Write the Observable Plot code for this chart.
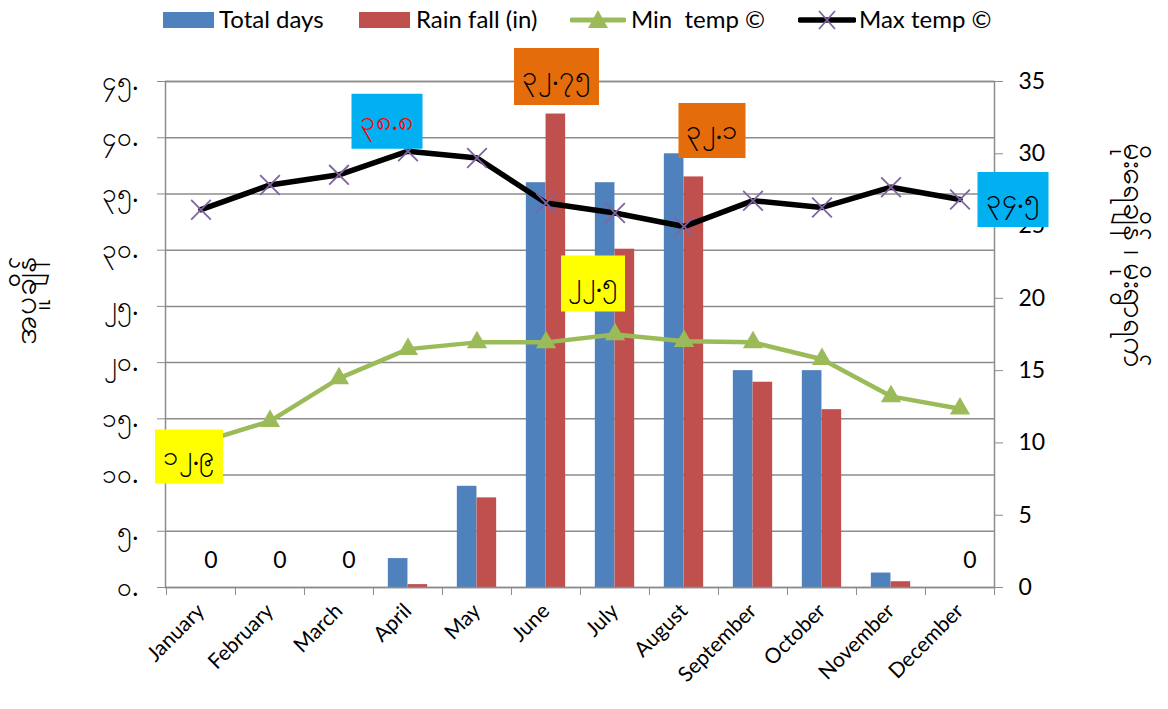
<!DOCTYPE html>
<html><head><meta charset="utf-8">
<script src="https://cdn.jsdelivr.net/npm/d3@7"></script>
<script src="https://cdn.jsdelivr.net/npm/@observablehq/plot@0.6"></script>
<style>
body{margin:0;background:#fff;font-family:Lato,"Open Sans",sans-serif;}
#legend{height:40px;position:relative;width:1168px;}
.sw{position:absolute;}
.lt{position:absolute;top:4px;font-size:24px;line-height:30px;white-space:pre;color:#000;}
</style></head><body>
<div id="legend"></div>
<div id="chart"></div>
<script>
const months = ["January","February","March","April","May","June","July","August","September","October","November","December"];
const totalDays = [0,0,0,2,7,28,28,30,15,15,1,0];
const rainFall = [0,0,0,0.2,6.2,32.75,23.4,28.4,14.2,12.3,0.4,0];
const minTemp = [12.9,14.8,18.6,21.2,21.8,21.8,22.5,21.9,21.8,20.3,17.0,15.9];
const maxTemp = [33.6,35.8,36.7,38.8,38.2,34.2,33.3,32.1,34.4,33.8,35.6,34.5];
const tempTicks = [0,5,10,15,20,25,30,35,40,45];
const dayTicks = [0,5,10,15,20,25,30,35];
const seriesNames = ["Total days","Rain fall (in)","Min  temp ©","Max temp ©"];
const leftTitle = "အပူချိန်";
const rightTitle = "မိုးရေချိန် ၊ မိုးရွာရက်";
const calloutMonths = ["January","April","June","July","August","December"];
const calloutSeries = ["min","max","rain","min","max","max"];

// styles / layout
const C = {blue:"#4F81BD", red:"#C0504D", green:"#9BBB59", black:"#000", purple:"#8064A2", grid:"#8c8c8c"};
const W=1168, H=669, mL=165, mR=174, mT=41, mB=122;
const step=(W-mL-mR)/12, half=step/2, barW=19.7;
const k = 45/35; // right-axis units -> left-axis units
const my = s => String(s).replace(/[0-9]/g, c => "၀၁၂၃၄၅၆၇၈၉"[+c]);
const calloutStyle = [
  {fill:"#FFFF00", color:"#000", w:68, h:54, dx:-12, dy:14},
  {fill:"#00B0F0", color:"#FF0000", w:71, h:55, dx:-21, dy:-30},
  {fill:"#E46C0A", color:"#000", w:85, h:57, dx:10.5, dy:-37.5},
  {fill:"#FFFF00", color:"#000", w:64, h:56, dx:-22, dy:-51},
  {fill:"#E46C0A", color:"#000", w:67, h:55, dx:28, dy:-96},
  {fill:"#00B0F0", color:"#000", w:71, h:55, dx:53, dy:0}
];

const rows = months.map((m,i)=>({month:m, days:totalDays[i], rain:rainFall[i], min:minTemp[i], max:maxTemp[i]}));
const rectSym = (w,h) => ({draw(ctx){ ctx.rect(-w/2,-h/2,w,h); }});

const calloutMarks = calloutMonths.flatMap((m,i)=>{
  const r = rows.find(d=>d.month===m);
  const s = calloutSeries[i], st = calloutStyle[i];
  const v = r[s];
  const d = [{month:m, y: s==="rain" ? v*k : v, label: my(v)}];
  return [
    Plot.dot(d, {x:"month", y:"y", symbol: rectSym(st.w, st.h), fill: st.fill, stroke:"none", dx: st.dx, dy: st.dy, r: 5}),
    Plot.text(d, {x:"month", y:"y", text:"label", fill: st.color, dx: st.dx, dy: st.dy, fontSize: 27, textAnchor:"middle", lineAnchor:"middle"})
  ];
});

const chart = Plot.plot({
  width: W, height: H, marginLeft: mL, marginRight: mR, marginTop: mT, marginBottom: mB,
  style: {fontFamily: "Lato, 'Open Sans', sans-serif", background: "white", overflow: "visible", color: "black"},
  x: {type: "band", domain: months, padding: 0},
  y: {domain: [0,45], label: null},
  marks: [
    Plot.gridY(tempTicks, {stroke: C.grid, strokeOpacity: 1, strokeWidth: 1.5}),
    Plot.barY(rows, {x:"month", y: d=>d.days*k, fill: C.blue, insetLeft: half-barW, insetRight: half}),
    Plot.barY(rows, {x:"month", y: d=>d.rain*k, fill: C.red, insetLeft: half, insetRight: half-barW}),
    Plot.frame({stroke: C.grid, strokeWidth: 1.5}),
    Plot.axisY(tempTicks, {anchor:"left", tickSize: 8, tickPadding: 19, tickFormat: d=>my(d)+".", fontSize: 26, stroke: C.grid, fill:"black", label: null}),
    Plot.axisY(dayTicks, {anchor:"right", y: d=>d*k, tickSize: 8, tickPadding: 16, tickFormat: d=>String(d), fontSize: 23, stroke: C.grid, fill:"black", label: null}),
    Plot.axisX({tickSize: 8, tickFormat: ()=>"", dx: -half, stroke: C.grid, label: null}),
    Plot.axisX(["December"], {tickSize: 8, tickFormat: ()=>"", dx: half, stroke: C.grid, label: null}),
    Plot.axisX({tickSize: 0, tickPadding: 20, tickRotate: -45, fontSize: 21, fill: "black", label: null}),
    Plot.text(rows.filter(d=>d.rain===0), {x:"month", y: 0, text: d=>String(d.rain), dx: barW/2, dy: -27, fontSize: 23, fill:"black"}),
    Plot.line(rows, {x:"month", y:"min", stroke: C.green, strokeWidth: 4.5}),
    Plot.dot(rows, {x:"month", y:"min", symbol:"triangle", fill: C.green, stroke:"none", r: 7.5}),
    Plot.line(rows, {x:"month", y:"max", stroke: C.black, strokeWidth: 5.5}),
    Plot.dot(rows, {x:"month", y:"max", symbol:"times", stroke: C.purple, strokeWidth: 1.8, r: 9}),
    ...calloutMarks,
    Plot.text([leftTitle], {frameAnchor:"left", rotate:-90, dx:-140, dy:-34, fontSize: 32, fill:"black", textAnchor:"middle", lineAnchor:"middle"}),
    Plot.text([rightTitle], {frameAnchor:"right", rotate:90, dx:139, dy:-79, fontSize: 31, fill:"black", textAnchor:"middle", lineAnchor:"middle"})
  ]
});
document.getElementById("chart").appendChild(chart);

// legend
const lg = document.getElementById("legend");
const swLeft = [163, 359, 570, 798], txLeft = [219, 416, 631, 859];
const swHtml = [
  `<svg class="sw" style="left:${swLeft[0]}px;top:12px" width="51" height="16"><rect width="51" height="16" fill="${C.blue}"/></svg>`,
  `<svg class="sw" style="left:${swLeft[1]}px;top:12px" width="51" height="16"><rect width="51" height="16" fill="${C.red}"/></svg>`,
  `<svg class="sw" style="left:${swLeft[2]}px;top:8px" width="56" height="24"><line x1="2" y1="12" x2="54" y2="12" stroke="${C.green}" stroke-width="5" stroke-linecap="round"/><path d="M28,2 L38,20 L18,20 Z" fill="${C.green}"/></svg>`,
  `<svg class="sw" style="left:${swLeft[3]}px;top:8px" width="58" height="24"><line x1="2" y1="12" x2="56" y2="12" stroke="#000" stroke-width="5.5" stroke-linecap="round"/><path d="M21,3 L37,21 M37,3 L21,21" stroke="${C.purple}" stroke-width="1.8"/></svg>`
];
lg.innerHTML = swHtml.join("") + seriesNames.map((n,i)=>`<span class="lt" style="left:${txLeft[i]}px">${n}</span>`).join("");
</script>
</body></html>
